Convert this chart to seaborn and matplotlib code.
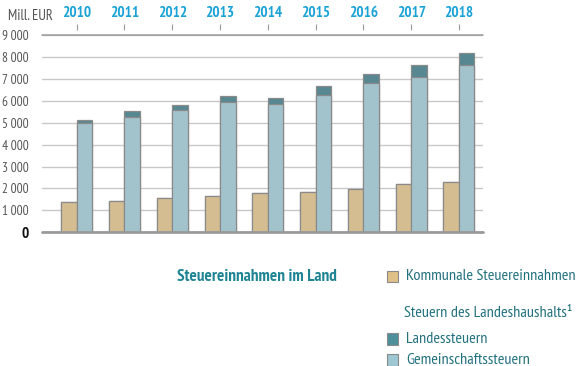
import matplotlib
matplotlib.use("Agg")
import matplotlib.pyplot as plt
import seaborn as sns
import pandas as pd
from matplotlib.patches import Rectangle

# Steuereinnahmen in Mill. EUR
years = ["2010", "2011", "2012", "2013", "2014", "2015", "2016", "2017", "2018"]
kommunale = [1390, 1440, 1550, 1670, 1780, 1840, 1960, 2190, 2295]
gemeinschaft = [5000, 5275, 5580, 5930, 5855, 6280, 6800, 7085, 7620]
landes = [120, 260, 215, 275, 285, 395, 420, 535, 545]
y_ticks = [0, 1000, 2000, 3000, 4000, 5000, 6000, 7000, 8000, 9000]
y_labels = ["0", "1\u2009000", "2\u2009000", "3\u2009000", "4\u2009000", "5\u2009000",
            "6\u2009000", "7\u2009000", "8\u2009000", "9\u2009000"]

C_KOMM = "#dfc086"
C_GEM = "#9cc7d3"
C_LAND = "#4d8f9b"
EDGE = "#8a8a8a"
TEAL = "#22717f"
BLUE = "#1ba3d7"
GREY_TXT = "#555555"

sns.set_theme(style="white")
plt.rcParams["font.family"] = ["PT Sans Narrow", "Fira Sans Condensed", "DejaVu Sans"]

W, H = 577, 366
fig = plt.figure(figsize=(W / 100, H / 100), dpi=100)
ax = fig.add_axes([41.7 / W, 1 - 232.3 / H, (483.3 - 41.7) / W, 197.3 / H])

land_total = [g + l for g, l in zip(gemeinschaft, landes)]
grp = ["Kommunal", "Land"]
df_top = pd.DataFrame({
    "Jahr": years * 2,
    "Gruppe": ["Kommunal"] * len(years) + ["Land"] * len(years),
    "Wert": kommunale + land_total,
})
df_base = pd.DataFrame({
    "Jahr": years * 2,
    "Gruppe": ["Kommunal"] * len(years) + ["Land"] * len(years),
    "Wert": kommunale + gemeinschaft,
})

# Total of Landeshaushalt first (dark cap), then Gemeinschaftssteuern over it
sns.barplot(data=df_top, x="Jahr", y="Wert", hue="Gruppe", hue_order=grp,
            palette=[C_KOMM, C_LAND], width=0.648, dodge=True, gap=0,
            edgecolor=EDGE, linewidth=0.9, legend=False, ax=ax, zorder=3)
sns.barplot(data=df_base, x="Jahr", y="Wert", hue="Gruppe", hue_order=grp,
            palette=[C_KOMM, C_GEM], width=0.648, dodge=True, gap=0,
            edgecolor=EDGE, linewidth=0.9, legend=False, ax=ax, zorder=3)
for p in ax.patches:
    p.set_alpha(1)

ax.set_xlim(-0.732, 8.509)
ax.set_ylim(0, 9000)
ax.set_xlabel("")
ax.set_ylabel("")

# grid
ax.set_yticks(y_ticks)
ax.set_yticklabels(y_labels)
ax.yaxis.grid(True, color="#c8c8c8", linewidth=1.0, zorder=0)
ax.xaxis.grid(False)
ax.set_axisbelow(True)
ax.axhline(9000, color="#9a9a9a", linewidth=1.1, clip_on=False, zorder=2)
ax.axhline(0, color="#9a9a9a", linewidth=2.0, clip_on=False, zorder=4)

for s in ["left", "right", "bottom"]:
    ax.spines[s].set_visible(False)
ax.spines["top"].set_position(("outward", 3.5))
ax.spines["top"].set_visible(False)

ax.xaxis.tick_top()
ax.tick_params(axis="x", top=True, bottom=False, labeltop=True, labelbottom=False,
               length=4, width=0.8, color="#9a9a9a", pad=3.0)
for lbl in ax.get_xticklabels():
    lbl.set_fontsize(11)
    lbl.set_fontweight("bold")
    lbl.set_color(BLUE)

ax.tick_params(axis="y", left=False, right=False, pad=3.5)
for lbl in ax.get_yticklabels():
    lbl.set_fontsize(9.6)
    lbl.set_color(GREY_TXT)
    if lbl.get_text() == "0":
        lbl.set_fontsize(11)
        lbl.set_fontweight("bold")
        lbl.set_color("#111111")


def fx(x):
    return x / W


def fy(y):
    return 1 - y / H


fig.text(fx(8), fy(16), "Mill. EUR", fontsize=10.5, color=GREY_TXT, va="center", ha="left")

# legend block
fig.text(fx(177), fy(277), "Steuereinnahmen im Land", fontsize=12.3, fontweight="bold",
         color="#1f8594", va="center", ha="left")

sq = 11.5
entries = [
    (276.5, C_KOMM, "Kommunale Steuereinnahmen"),
    (339, C_LAND, "Landessteuern"),
    (360, C_GEM, "Gemeinschaftssteuern"),
]
for yc, col, txt in entries:
    fig.patches.append(Rectangle((fx(387), fy(yc + sq / 2)), sq / W, sq / H,
                                 transform=fig.transFigure, facecolor=col,
                                 edgecolor=EDGE, linewidth=0.8))
    fig.text(fx(406), fy(yc), txt, fontsize=11.7, color=TEAL, va="center", ha="left")

fig.text(fx(404), fy(313), "Steuern des Landeshaushalts\u00b9", fontsize=11.7,
         color=TEAL, va="center", ha="left")

fig.savefig("out.png", dpi=100)
